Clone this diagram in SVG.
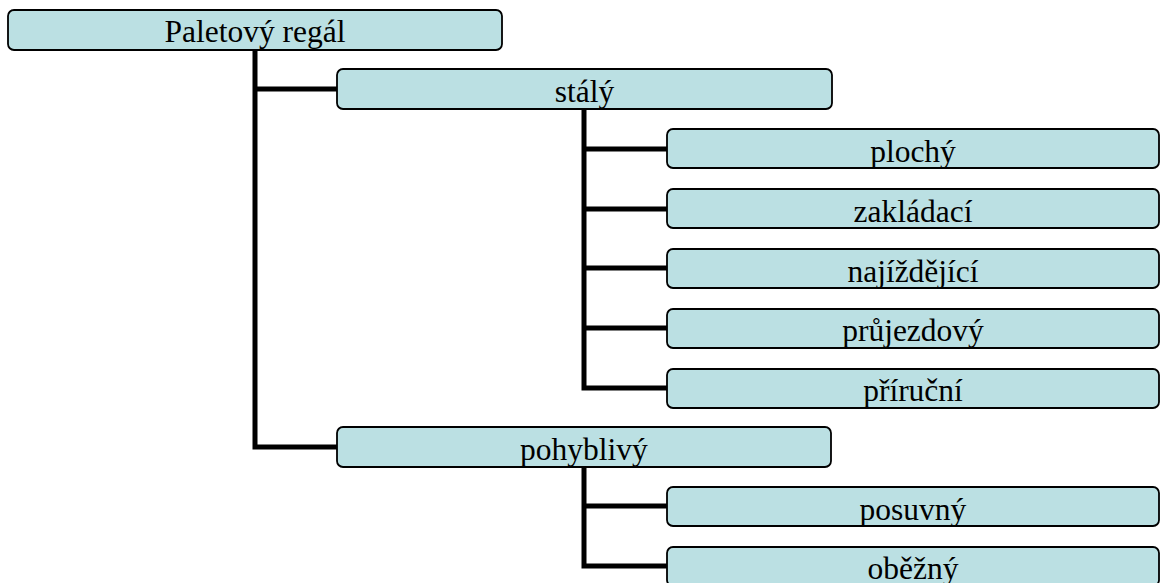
<svg xmlns="http://www.w3.org/2000/svg" width="1160" height="583" viewBox="0 0 1160 583">
<style>
.box{fill:#BBE0E3;stroke:#000;stroke-width:1.8}
.lbl{font-family:"Liberation Serif","Times New Roman",serif;font-size:31.5px;fill:#000;text-anchor:middle}
.con{fill:none;stroke:#000;stroke-width:5;stroke-linejoin:miter;stroke-linecap:butt}
</style>
<rect width="1160" height="583" fill="#fff"/>
<g id="connectors">
<path class="con" d="M255,50 V447 H337"/>
<path class="con" d="M255,89 H337"/>
<path class="con" d="M584,109 V388 H667"/>
<path class="con" d="M584,149 H667 M584,209 H667 M584,268 H667 M584,328 H667"/>
<path class="con" d="M584,467 V566 H667"/>
<path class="con" d="M584,506 H667"/>
</g>
<g id="root"><rect class="box" x="8" y="10" width="494" height="40" rx="6"/><text class="lbl" x="255" y="42">Paletový regál</text></g>
<g id="staly"><rect class="box" x="337" y="69" width="495" height="40" rx="6"/><text class="lbl" x="584.5" y="102">stálý</text></g>
<g id="plochy"><rect class="box" x="667" y="129" width="492" height="39" rx="6"/><text class="lbl" x="913" y="162">plochý</text></g>
<g id="zakladaci"><rect class="box" x="667" y="189" width="492" height="39" rx="6"/><text class="lbl" x="913" y="222">zakládací</text></g>
<g id="najizdejici"><rect class="box" x="667" y="249" width="492" height="39" rx="6"/><text class="lbl" x="913" y="282">najíždějící</text></g>
<g id="prujezdovy"><rect class="box" x="667" y="309" width="492" height="39" rx="6"/><text class="lbl" x="913" y="341">průjezdový</text></g>
<g id="prirucni"><rect class="box" x="667" y="369" width="492" height="39" rx="6"/><text class="lbl" x="913" y="401">příruční</text></g>
<g id="pohyblivy"><rect class="box" x="337" y="427" width="494" height="40" rx="6"/><text class="lbl" x="584" y="460">pohyblivý</text></g>
<g id="posuvny"><rect class="box" x="667" y="487" width="492" height="39" rx="6"/><text class="lbl" x="913" y="520">posuvný</text></g>
<g id="obezny"><rect class="box" x="667" y="547" width="492" height="39" rx="6"/><text class="lbl" x="913" y="579">oběžný</text></g>
</svg>
